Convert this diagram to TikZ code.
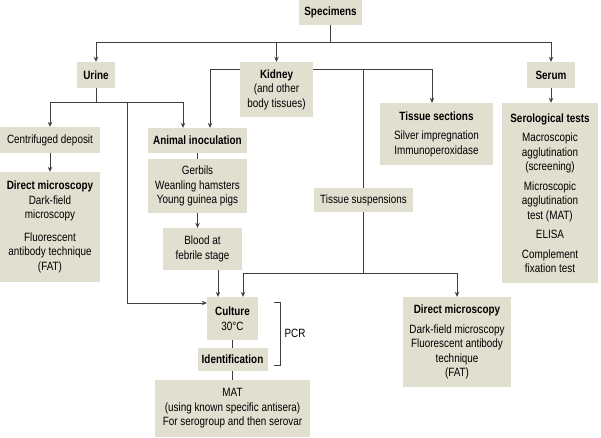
\documentclass[tikz,border=0pt]{standalone}
\usepackage{fontspec}
\setmainfont[FakeStretch=0.825]{Liberation Sans}
\usepackage{tikz}
\usetikzlibrary{positioning,calc,arrows.meta}

\definecolor{boxfill}{HTML}{E1DFCF}
\definecolor{linegray}{HTML}{3E3E3E}

\begin{document}
\begin{tikzpicture}[
        x=1pt, y=-1pt,
        every node/.style={font=\fontsize{12}{14.5}\selectfont},
        box/.style={rectangle, fill=boxfill, align=center, inner sep=2pt},
        line/.style={draw=linegray, line width=0.9pt},
        arrow/.style={line, -{Stealth[length=5pt,width=4.5pt]}}
        ]
        \useasboundingbox (0,0) rectangle (601,437);

        % Top row
        \node[box, minimum width=63, minimum height=25] (spec) at (330.5,12.5) {\textbf{Specimens}};
        \node[box, minimum width=38, minimum height=26] (urine) at (96,75) {\textbf{Urine}};
        \node[box, minimum width=73, minimum height=55] (kidney) at (276.5,89.5) {\textbf{Kidney}\\(and other\\body tissues)};
        \node[box, minimum width=48, minimum height=26] (serum) at (551,75) {\textbf{Serum}};

        % Urine branch
        \node[box, minimum width=100, minimum height=26] (centri) at (50,140) {Centrifuged deposit};
        \node[box, minimum width=100, minimum height=110] (dmleft) at (50,227) {\textbf{Direct microscopy}\\Dark-field\\microscopy\\[8pt]Fluorescent\\antibody technique\\(FAT)};

        % Animal inoculation
        \node[box, minimum width=99, minimum height=25] (animal) at (197.5,140.5) {\textbf{Animal inoculation}};
        \node[box, minimum width=99, minimum height=54] (gerbils) at (197.5,186) {Gerbils\\Weanling hamsters\\Young guinea pigs};
        \node[box, minimum width=79, minimum height=42] (blood) at (202.5,249) {Blood at\\febrile stage};

        % Kidney and serum branches
        \node[box, minimum width=113, minimum height=62] (tissec) at (436.5,134) {\textbf{Tissue sections}\\[5pt]Silver impregnation\\Immunoperoxidase};
        \node[box, minimum width=99, minimum height=24] (tissusp) at (363.5,200) {Tissue suspensions};
        \node[box, minimum width=96, minimum height=180] (serol) at (550,193) {\textbf{Serological tests}\\[5pt]Macroscopic\\agglutination\\(screening)\\[5pt]Microscopic\\agglutination\\test (MAT)\\[5pt]ELISA\\[5pt]Complement\\fixation test};

        % Culture chain
        \node[box, minimum width=51, minimum height=43] (culture) at (232.5,318.5) {\textbf{Culture}\\30°C};
        \node[box, minimum width=70, minimum height=23] (ident) at (232.5,359.5) {\textbf{Identification}};
        \node[box, minimum width=155, minimum height=57] (mat) at (232.5,408.5) {MAT\\(using known specific antisera)\\For serogroup and then serovar};
        \node[box, minimum width=108, minimum height=90] (dmright) at (457,342) {\textbf{Direct microscopy}\\[5pt]Dark-field microscopy\\Fluorescent antibody\\technique\\(FAT)};

        % Junction points
        \coordinate (specbar) at (330.5,42);
        \coordinate (urinebar) at (96,102);
        \coordinate (urinejoin) at (127,102);
        \coordinate (kidneyleft) at ([yshift=20.5pt]kidney.west);
        \coordinate (kidneyright) at ([yshift=20.5pt]kidney.east);
        \coordinate (suspbar) at (363.5,273);
        \coordinate (pcrtop) at (274,302);
        \coordinate (pcrbot) at (274,365);

        % Specimens to the three sources
        \draw[line] (spec.south) -- (specbar);
        \draw[arrow] (specbar) -| (urine.north);
        \draw[arrow] (specbar) -| (serum.north);
        \draw[arrow] (kidney.north |- specbar) -- (kidney.north);

        % Urine
        \draw[line] (urine.south) -- (urinebar);
        \draw[arrow] (urinebar) -| (centri.north);
        \draw[arrow] (urinebar) -| ([xshift=-14.5pt]animal.north);
        \draw[arrow] (urinejoin) |- ([yshift=15.5pt]culture.west);
        \draw[arrow] (centri.south) -- (dmleft.north);

        % Kidney
        \draw[arrow] (kidneyleft) -| ([xshift=12.5pt]animal.north);
        \draw[arrow] (kidneyright) -| ([xshift=-4.5pt]tissec.north);
        \draw[line] (tissusp.north |- kidneyright) -- (tissusp.north);
        \draw[line] (tissusp.south) -- (suspbar);
        \draw[arrow] (suspbar) -| ([xshift=10.5pt]culture.north);
        \draw[arrow] (suspbar) -| (dmright.north);

        % Animal inoculation chain
        \draw[line] (animal.south) -- (gerbils.north);
        \draw[arrow] (gerbils.south) -- (gerbils.south |- blood.north);
        \draw[arrow] ([xshift=15.5pt]blood.south) -- ([xshift=-14.5pt]culture.north);

        % Serum
        \draw[arrow] (serum.south) -- (serum.south |- serol.north);

        % Culture to identification
        \draw[line] (culture.south) -- (ident.north);
        \draw[line] (ident.south) -- (mat.north);
        \draw[line] (pcrtop) -- ++(6,0) |- (pcrbot);
        \node (pcr) at (295,333) {PCR};

    \end{tikzpicture}
\end{document}
